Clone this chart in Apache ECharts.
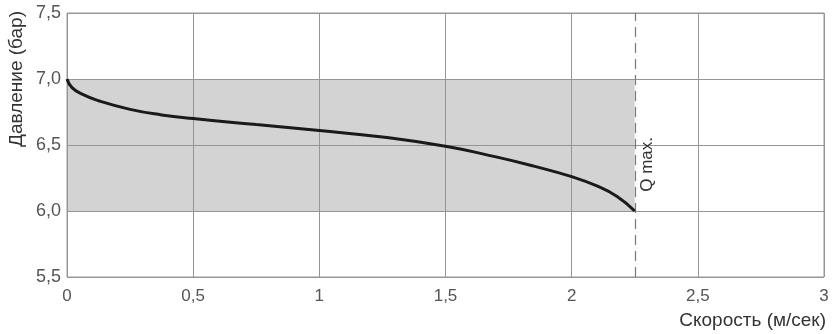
<!DOCTYPE html>
<html>
<head>
<meta charset="utf-8">
<script src="https://cdn.jsdelivr.net/npm/echarts@6/dist/echarts.min.js"></script>
<style>
html,body{margin:0;padding:0;background:#fff;}
#chart{width:833px;height:334px;}
</style>
</head>
<body>
<div id="chart"></div>
<script>
// Data
const speed = [0, 0.02, 0.06, 0.125, 0.25, 0.375, 0.5, 0.75, 1.0, 1.25, 1.5, 1.7, 1.85, 2.0, 2.1, 2.18, 2.25];
const pressure = [7.0, 6.935, 6.885, 6.835, 6.77, 6.728, 6.70, 6.655, 6.61, 6.56, 6.49, 6.41, 6.34, 6.26, 6.19, 6.11, 6.0];
const qMax = 2.25;
const zoneMin = 6.0;
const zoneMax = 7.0;
const xName = 'Скорость (м/сек)';
const yName = 'Давление (бар)';
const qLabel = 'Q max.';

const chart = echarts.init(document.getElementById('chart'), null, {renderer: 'canvas'});
const fmt = v => String(v).replace('.', ',');
const font = 'Liberation Sans, Arial, sans-serif';

chart.setOption({
  animation: false,
  grid: {left: 67, right: 9, top: 13, bottom: 57, show: true, borderColor: '#9a9a9a', borderWidth: 1},
  xAxis: {
    type: 'value', min: 0, max: 3, interval: 0.5,
    axisLine: {show: false}, axisTick: {show: false},
    splitLine: {show: true, lineStyle: {color: '#959595', width: 1}},
    axisLabel: {color: '#555', fontSize: 17, fontFamily: font, margin: 11, formatter: v => fmt(v)}
  },
  yAxis: {
    type: 'value', min: 5.5, max: 7.5, interval: 0.5,
    axisLine: {show: false}, axisTick: {show: false},
    splitLine: {show: true, lineStyle: {color: '#959595', width: 1}},
    axisLabel: {color: '#555', fontSize: 18, fontFamily: font, margin: 6, formatter: v => v.toFixed(1).replace('.', ',')}
  },
  series: [{
    type: 'line',
    data: speed.map((s, i) => [s, pressure[i]]),
    smooth: 0.5,
    symbol: 'none',
    lineStyle: {color: '#1a1a1a', width: 3},
    z: 5,
    markArea: {
      silent: true,
      itemStyle: {color: 'rgba(150,150,150,0.42)'},
      data: [[{coord: [0, zoneMax]}, {coord: [qMax, zoneMin]}]]
    },
    markLine: {
      silent: true, symbol: 'none', label: {show: false},
      lineStyle: {color: '#777', type: [10, 6], width: 1.2},
      data: [{xAxis: qMax}]
    }
  }]
});

const qp = chart.convertToPixel({gridIndex: 0}, [qMax, 6.27]);
chart.setOption({
  graphic: [
    {type: 'text', x: qp[0] + 13, y: qp[1] - 11, rotation: Math.PI / 2,
     style: {text: qLabel, fill: '#333', font: '17px ' + font, align: 'center', verticalAlign: 'middle'}},
    {type: 'text', x: 17, y: 79, rotation: Math.PI / 2,
     style: {text: yName, fill: '#333', font: '19px ' + font, align: 'center', verticalAlign: 'middle'}},
    {type: 'text', x: 826, y: 321,
     style: {text: xName, fill: '#333', font: '19px ' + font, align: 'right', verticalAlign: 'middle'}}
  ]
});
</script>
</body>
</html>
